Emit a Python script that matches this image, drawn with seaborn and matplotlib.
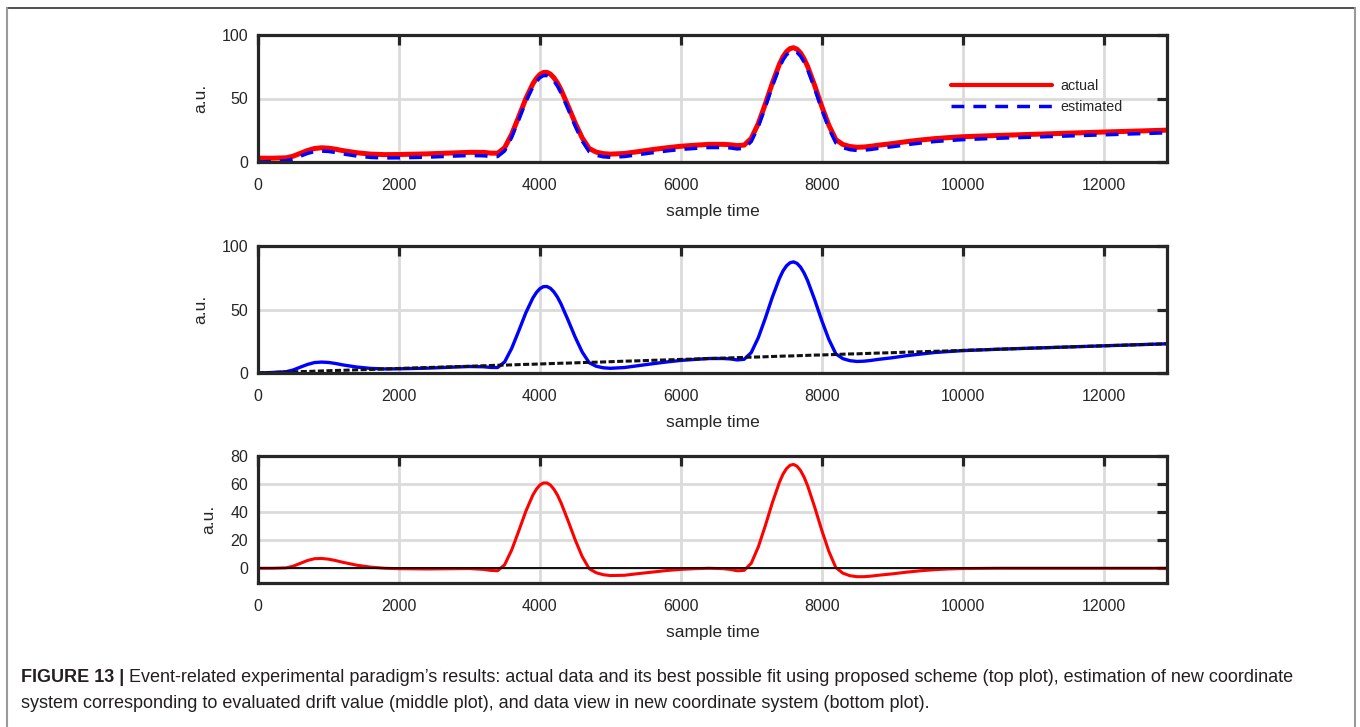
import matplotlib
matplotlib.use("Agg")
import matplotlib.pyplot as plt
from matplotlib.lines import Line2D
import seaborn as sns
import pandas as pd

sns.set_theme(style="white")
plt.rcParams['font.family'] = ['Liberation Sans', 'DejaVu Sans']

t = [0, 200, 400, 500, 600, 700, 800, 900, 1000, 1100, 1200, 1400, 1600, 1800, 2000,
     2400, 2800, 3000, 3200, 3300, 3400, 3500, 3600, 3700, 3800, 3900,
     3950, 4000, 4050, 4100, 4150, 4200, 4250, 4300,
     4400, 4500, 4600, 4700, 4800, 4900, 5000,
     5200, 5400, 5600, 5800, 6000, 6200, 6400, 6600, 6700, 6800, 6900,
     7000, 7100, 7200, 7300, 7400,
     7450, 7500, 7550, 7600, 7650, 7700, 7750, 7800,
     7900, 8000, 8100, 8200, 8300, 8400, 8500, 8600, 8700, 8800,
     9000, 9200, 9400, 9600, 9800, 10000, 10500, 11000, 11500, 12000, 12500, 12900]

actual = [3.0, 3.0, 3.3, 4.6, 6.8, 9.0, 10.6, 11.2, 10.9, 10.1, 9.0, 7.3, 6.2, 5.8, 5.9,
          6.4, 7.2, 7.6, 7.6, 7.0, 6.9, 11.2, 21.9, 35.6, 49.8, 61.5,
          65.8, 68.9, 70.5, 70.6, 69.2, 66.3, 62.2, 56.9,
          44.2, 30.9, 19.1, 10.6, 7.8, 6.6, 6.2,
          6.7, 8.2, 9.8, 11.2, 12.4, 13.2, 13.9, 13.9, 13.6, 12.9, 13.3,
          18.6, 30.3, 45.7, 62.3, 77.0,
          82.8, 86.9, 89.3, 90.0, 88.8, 85.8, 81.2, 75.2,
          60.2, 43.9, 29.1, 17.6, 13.8, 12.2, 11.6, 11.8, 12.4, 13.2,
          14.5, 16.0, 17.3, 18.4, 19.2, 19.9, 20.9, 21.8, 22.7, 23.6, 24.4, 25.1]

estimated = [0.0, 0.4, 1.0, 2.4, 4.6, 6.7, 8.2, 8.6, 8.3, 7.5, 6.4, 4.7, 3.6, 3.2, 3.3,
             3.8, 4.7, 5.1, 4.9, 4.4, 4.3, 8.7, 19.4, 33.1, 47.3, 59.0,
             63.3, 66.4, 68.0, 68.1, 66.7, 63.8, 59.7, 54.4,
             41.7, 28.4, 16.6, 8.1, 5.3, 4.1, 3.7,
             4.3, 5.8, 7.3, 8.7, 9.9, 10.7, 11.4, 11.4, 11.1, 10.3, 10.8,
             16.1, 27.8, 43.2, 59.8, 74.5,
             80.3, 84.4, 86.8, 87.5, 86.3, 83.3, 78.7, 72.7,
             57.7, 41.4, 26.6, 15.1, 11.3, 9.7, 9.1, 9.3, 9.9, 10.7,
             12.0, 13.6, 14.9, 16.1, 16.9, 17.6, 18.7, 19.6, 20.5, 21.4, 22.3, 23.0]

drift = [0.0, 0.4, 0.7, 0.9, 1.1, 1.2, 1.4, 1.6, 1.8, 2.0, 2.1, 2.5, 2.8, 3.2, 3.6,
         4.3, 5.0, 5.3, 5.7, 5.9, 6.1, 6.2, 6.4, 6.6, 6.8, 6.9,
         7.0, 7.1, 7.2, 7.3, 7.4, 7.5, 7.6, 7.7,
         7.8, 8.0, 8.2, 8.4, 8.5, 8.7, 8.9,
         9.3, 9.6, 10.0, 10.3, 10.7, 11.0, 11.4, 11.7, 11.9, 12.1, 12.3,
         12.5, 12.6, 12.8, 13.0, 13.2,
         13.3, 13.4, 13.4, 13.5, 13.6, 13.7, 13.8, 13.9,
         14.1, 14.2, 14.4, 14.6, 14.8, 15.0, 15.1, 15.3, 15.5, 15.7,
         16.0, 16.4, 16.7, 17.1, 17.4, 17.8, 18.7, 19.6, 20.5, 21.4, 22.3, 23.0]

corrected = [0.0, 0.0, 0.3, 1.5, 3.5, 5.5, 6.8, 7.0, 6.5, 5.5, 4.3, 2.2, 0.8, 0.0, -0.3,
             -0.5, -0.3, -0.2, -0.8, -1.5, -1.8, 2.5, 13.0, 26.5, 40.5, 52.1,
             56.3, 59.3, 60.8, 60.8, 59.3, 56.3, 52.1, 46.7,
             33.9, 20.4, 8.4, -0.3, -3.2, -4.6, -5.2,
             -5.0, -3.8, -2.7, -1.6, -0.8, -0.3, 0.0, -0.3, -0.8, -1.8, -1.5,
             3.6, 15.2, 30.4, 46.8, 61.3,
             67.0, 71.0, 73.4, 74.0, 72.7, 69.6, 64.9, 58.8,
             43.6, 27.2, 12.2, 0.5, -3.5, -5.3, -6.0, -6.0, -5.6, -5.0,
             -4.0, -2.8, -1.8, -1.0, -0.5, -0.2, 0.0, 0.0, 0.0, 0.0, 0.0, 0.0]

x_ticks = [0, 2000, 4000, 6000, 8000, 10000, 12000]
df = pd.DataFrame({'t': t, 'actual': actual, 'estimated': estimated,
                   'drift': drift, 'corrected': corrected})

W, H = 1360, 727
fig = plt.figure(figsize=(W / 100, H / 100), dpi=100)

dark = '#262626'
grid_c = '#dbdbdb'


def make_ax(top, bottom):
    left, right = 258, 1167
    ax = fig.add_axes([left / W, 1 - bottom / H, (right - left) / W, (bottom - top) / H])
    ax.set_xlim(0, 12900)
    ax.set_xticks(x_ticks)
    ax.grid(True, color=grid_c, linewidth=2.0)
    ax.set_axisbelow(True)
    for s in ax.spines.values():
        s.set_linewidth(2.3)
        s.set_color(dark)
    ax.tick_params(direction='in', length=7, width=2.3, color=dark,
                   top=True, right=True, labelsize=11.5, labelcolor=dark)
    ax.tick_params(axis='x', pad=11.5)
    ax.tick_params(axis='y', pad=7)
    return ax


def labels(ax):
    ax.set_xlabel('sample time', fontsize=12.5, color=dark, labelpad=8)
    ax.set_ylabel('a.u.', fontsize=12.5, color=dark, labelpad=10)


# top: actual data and fit
ax1 = make_ax(35, 162)
sns.lineplot(data=df, x='t', y='actual', ax=ax1, color='#ff0000', linewidth=3.6)
sns.lineplot(data=df, x='t', y='estimated', ax=ax1, color='#0000ff', linewidth=2.5,
             linestyle=(0, (3.7, 2.6)))
ax1.set_ylim(0, 100)
ax1.set_yticks([0, 50, 100])
labels(ax1)
handles = [Line2D([], [], color='#ff0000', linewidth=3.0),
           Line2D([], [], color='#0000ff', linewidth=2.5, linestyle=(0, (3.7, 2.6)))]
ax1.legend(handles, ['actual', 'estimated'], loc='center left',
           bbox_to_anchor=(0.755, 0.515), frameon=False, fontsize=10.3,
           handlelength=7.0, handletextpad=0.6, labelspacing=0.45,
           borderpad=0, labelcolor=dark)

# middle: estimation and drift
ax2 = make_ax(246, 373)
sns.lineplot(data=df, x='t', y='estimated', ax=ax2, color='#0000ff', linewidth=2.4)
sns.lineplot(data=df, x='t', y='drift', ax=ax2, color='#111111', linewidth=2.2,
             linestyle=(0, (2.0, 0.8)))
ax2.set_ylim(0, 100)
ax2.set_yticks([0, 50, 100])
labels(ax2)

# bottom: data in new coordinate system
ax3 = make_ax(456, 583)
sns.lineplot(data=df, x='t', y='corrected', ax=ax3, color='#ff0000', linewidth=2.2)
ax3.axhline(0, color='black', linewidth=1.3)
ax3.set_ylim(-10.5, 80)
ax3.set_yticks([0, 20, 40, 60, 80])
labels(ax3)

# outer frame of the figure panel
fig.add_artist(Line2D([7 / W, 1355 / W], [1 - 8 / H, 1 - 8 / H],
                      transform=fig.transFigure, color='#333333', linewidth=1.2))
fig.add_artist(Line2D([7 / W, 7 / W], [0, 1 - 8 / H],
                      transform=fig.transFigure, color='#999999', linewidth=1.5))
fig.add_artist(Line2D([1355 / W, 1355 / W], [0, 1 - 8 / H],
                      transform=fig.transFigure, color='#999999', linewidth=1.5))

# caption
cap_c = '#231f20'
cap_fs = 13.0
bold = fig.text(21 / W, 1 - 677 / H, 'FIGURE 13 | ', fontsize=cap_fs,
                fontweight='bold', color=cap_c, va='center', ha='left')
fig.canvas.draw()
bb = bold.get_window_extent(renderer=fig.canvas.get_renderer())
fig.text(bb.x1 / W, 1 - 677 / H,
         "Event-related experimental paradigm\u2019s results: actual data and its best possible fit "
         "using proposed scheme (top plot), estimation of new coordinate",
         fontsize=cap_fs, color=cap_c, va='center', ha='left')
fig.text(21 / W, 1 - 703 / H,
         "system corresponding to evaluated drift value (middle plot), and data view in new "
         "coordinate system (bottom plot).",
         fontsize=cap_fs, color=cap_c, va='center', ha='left')

fig.savefig('out.png', dpi=100)
